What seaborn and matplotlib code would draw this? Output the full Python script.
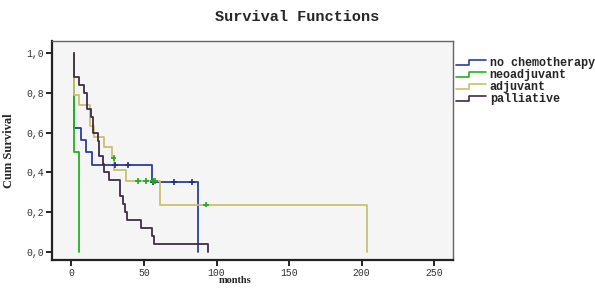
import numpy as np
import pandas as pd
import matplotlib
matplotlib.use("Agg")
import matplotlib.pyplot as plt
import seaborn as sns
from matplotlib.lines import Line2D
from matplotlib.legend_handler import HandlerBase

# ---- data ----
groups = ["no chemotherapy", "neoadjuvant", "adjuvant", "palliative"]

nochemo_t = [1.5, 1.5, 6.5, 10, 14, 55.5, 87]
nochemo_s = [1.0, 0.625, 0.5625, 0.5, 0.4375, 0.35, 0.0]

neo_t = [2, 2, 5.4]
neo_s = [1.0, 0.5, 0.0]

adj_t = [1.5, 1.5, 5.0, 13, 15.5, 22.5, 28.3, 29.5, 37.5, 61, 204]
adj_s = [1.0, 0.79, 0.737, 0.632, 0.579, 0.526, 0.474, 0.414, 0.355, 0.2385, 0.0]

pal_t = [1.5, 1.5, 5.4, 8.8, 10.7, 13.4, 14.6, 18, 19.2, 21.5, 22.2, 26,
         33.6, 35.2, 36.8, 38.2, 47.9, 55.2, 57, 94.2]
pal_s = [1.0, 0.88, 0.84, 0.80, 0.72, 0.68, 0.60, 0.56, 0.48, 0.44, 0.40, 0.36,
         0.28, 0.24, 0.20, 0.16, 0.12, 0.08, 0.04, 0.0]

# censored observations
cens_nochemo_t = [30.2, 39, 56, 70.4, 83.4]
cens_nochemo_s = [0.4375, 0.4375, 0.35, 0.35, 0.35]
cens_adj_t = [29, 46, 51.3, 56.5, 57.5, 92.8]
cens_adj_s = [0.474, 0.355, 0.355, 0.355, 0.355, 0.2385]

xticks = [0, 50, 100, 150, 200, 250]
yticks = [0.0, 0.2, 0.4, 0.6, 0.8, 1.0]
ytick_labels = ["0,0", "0,2", "0,4", "0,6", "0,8", "1,0"]

colors = {"no chemotherapy": "#2b3f98", "neoadjuvant": "#22b422",
          "adjuvant": "#c9c06a", "palliative": "#3e2c46"}

# ---- build frames ----
rows = []
for g, t, s in zip(groups, [nochemo_t, neo_t, adj_t, pal_t],
                   [nochemo_s, neo_s, adj_s, pal_s]):
    for ti, si in zip(t, s):
        rows.append({"group": g, "time": ti, "surv": si})
df = pd.DataFrame(rows)

cens = pd.DataFrame({
    "group": ["no chemotherapy"] * len(cens_nochemo_t) + ["adjuvant"] * len(cens_adj_t),
    "time": cens_nochemo_t + cens_adj_t,
    "surv": cens_nochemo_s + cens_adj_s,
})
cens_colors = {"no chemotherapy": "#1f2f80", "adjuvant": "#1faa1f"}

sns.set_style("white")

fig = plt.figure(figsize=(5.95, 2.88), dpi=100)
ax = fig.add_axes([52 / 595, 1 - 260 / 288, 401 / 595, 219 / 288])
ax.set_facecolor("#f5f5f5")

sns.lineplot(data=df, x="time", y="surv", hue="group", hue_order=groups,
             palette=colors, estimator=None, sort=False, drawstyle="steps-post",
             linewidth=1.3, legend=False, ax=ax)
sns.scatterplot(data=cens, x="time", y="surv", hue="group", palette=cens_colors,
                marker="+", s=18, linewidth=1.2, legend=False, ax=ax, zorder=5)

ax.set_xlim(-13.4, 263)
ax.set_ylim(-0.04, 1.06)
ax.set_xticks(xticks)
ax.set_xticklabels([str(v) for v in xticks], family="Liberation Mono", fontsize=7,
                   color="#333333")
ax.set_yticks(yticks)
ax.set_yticklabels(ytick_labels, family="Liberation Mono", fontsize=7,
                   color="#333333")
ax.tick_params(axis="both", direction="out", length=4, width=1.2, color="black",
               pad=1.5, bottom=True, left=True)

for side in ["left", "bottom"]:
    ax.spines[side].set_color("#222222")
    ax.spines[side].set_linewidth(1.6)
for side in ["top", "right"]:
    ax.spines[side].set_color("#666666")
    ax.spines[side].set_linewidth(1.0)

ax.set_ylabel("Cum Survival", family="Liberation Serif", fontweight="bold", fontsize=9)
ax.yaxis.set_label_coords(-0.093, 0.5)
ax.set_xlabel("months", family="Liberation Serif", fontweight="bold", fontsize=7.5)
ax.xaxis.set_label_coords(0.456, -0.072)

fig.text(0.5, 0.94, "Survival Functions", ha="center", va="center",
         family="Liberation Mono", fontweight="bold", fontsize=11)


class StepHandler(HandlerBase):
    def create_artists(self, legend, orig_handle, xdescent, ydescent, width,
                       height, fontsize, trans):
        x0, y0 = -xdescent, -ydescent
        xs = [x0, x0 + 0.45 * width, x0 + 0.45 * width, x0 + width]
        ys = [y0 + 0.1 * height, y0 + 0.1 * height, y0 + 0.75 * height, y0 + 0.75 * height]
        return [Line2D(xs, ys, color=orig_handle.get_color(), lw=1.2, transform=trans)]


handles = [Line2D([], [], color=colors[g]) for g in groups]
leg = fig.legend(handles, groups, loc="upper left",
                 bbox_to_anchor=(456 / 595, 1 - 57 / 288), frameon=False,
                 handler_map={Line2D: StepHandler()}, handlelength=2.5,
                 handletextpad=0.35, labelspacing=0.0, borderaxespad=0,
                 borderpad=0,
                 prop={"family": "Liberation Mono", "weight": "bold", "size": 8.5})

fig.savefig("out.png", dpi=100)
